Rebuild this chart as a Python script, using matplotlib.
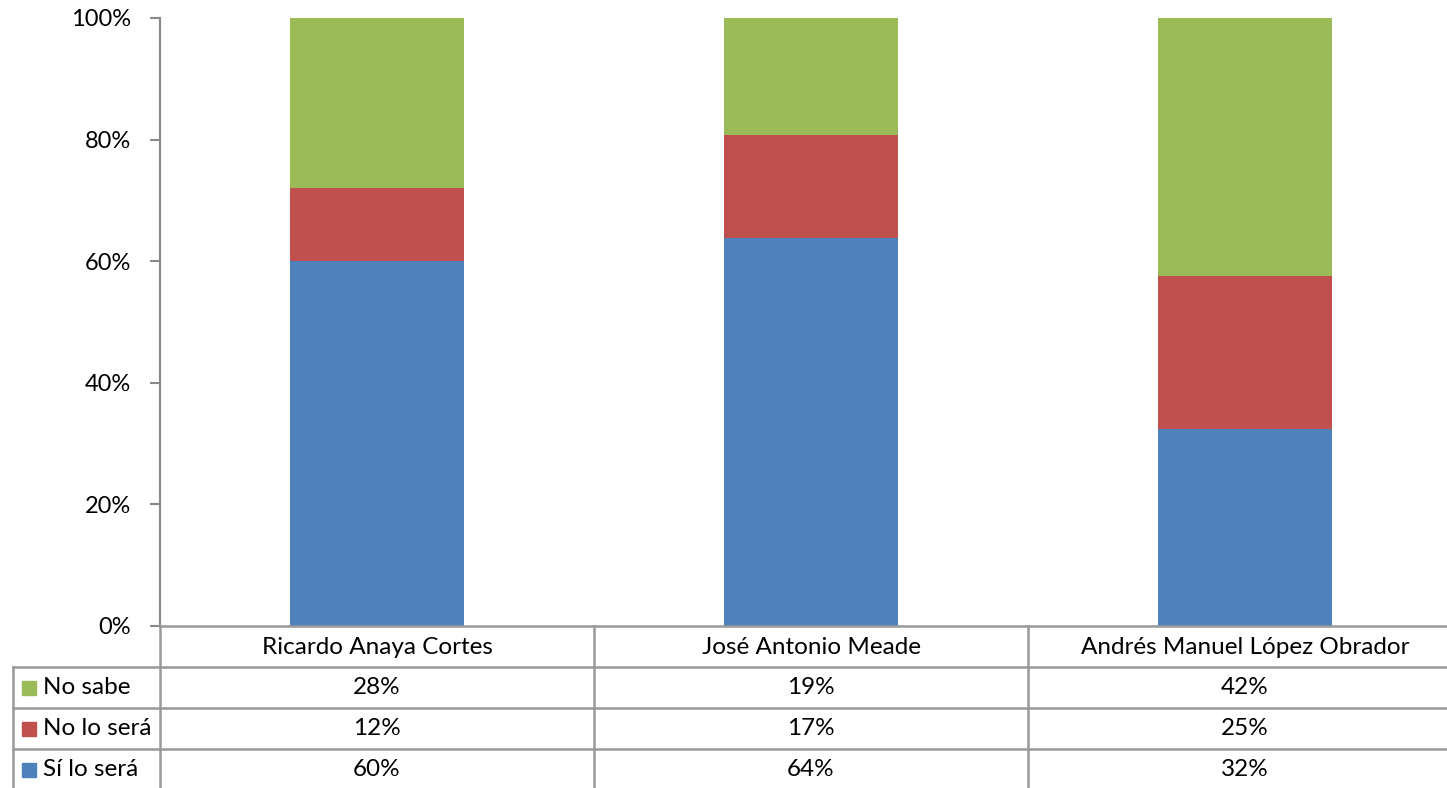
import matplotlib
matplotlib.use("Agg")
import matplotlib.pyplot as plt
from matplotlib.lines import Line2D
from matplotlib.patches import Rectangle

categories = ["Ricardo Anaya Cortes", "José Antonio Meade", "Andrés Manuel López Obrador"]
si_lo_sera = [60.0, 63.8, 32.4]
no_lo_sera = [12.0, 17.0, 25.2]
no_sabe = [28.0, 19.2, 42.4]
series_names = ["No sabe", "No lo será", "Sí lo será"]
yticks = [0, 20, 40, 60, 80, 100]

colors = {"Sí lo será": "#4F81BD", "No lo será": "#C0504D", "No sabe": "#9BBB59"}
W, H = 1447, 788
plt.rcParams['font.family'] = ['Lato', 'DejaVu Sans']
fig = plt.figure(figsize=(W / 100, H / 100), dpi=100)

def fx(px):
    return px / W

def fy(py):
    return 1 - py / H

ax_l, ax_r, ax_t, ax_b = 160, 1447, 18, 626
ax = fig.add_axes([fx(ax_l), fy(ax_b), fx(ax_r - ax_l), (ax_b - ax_t) / H])
cat_w = 434
xmax = -0.5 + (ax_r - ax_l) / cat_w
x = list(range(len(categories)))
ax.bar(x, si_lo_sera, width=0.4, color=colors["Sí lo será"], zorder=2)
ax.bar(x, no_lo_sera, width=0.4, bottom=si_lo_sera, color=colors["No lo será"], zorder=2)
bot2 = [a + b for a, b in zip(si_lo_sera, no_lo_sera)]
ax.bar(x, no_sabe, width=0.4, bottom=bot2, color=colors["No sabe"], zorder=2)
ax.set_xlim(-0.5, xmax)
ax.set_ylim(0, 100)
ax.set_yticks(yticks)
ax.set_yticklabels([f"{t}%" for t in yticks], fontsize=17)
ax.set_xticks([])
for s in ["top", "right", "bottom"]:
    ax.spines[s].set_visible(False)
ax.spines["left"].set_color("#888888")
ax.spines["left"].set_linewidth(1.5)
ax.tick_params(axis="y", length=7, width=1.5, color="#888888", pad=14, labelcolor="#000000")

# data table
gray = "#999999"
lw = 1.8
rows_y = [626, 667, 708, 749, 790]
col_x = [160, 594, 1028, 1462]
fig.add_artist(Line2D([fx(160), fx(1447)], [fy(626), fy(626)], color=gray, lw=lw))
for yy in rows_y[1:]:
    fig.add_artist(Line2D([fx(13), fx(1447)], [fy(yy), fy(yy)], color=gray, lw=lw))
for xx in col_x[:-1]:
    fig.add_artist(Line2D([fx(xx), fx(xx)], [fy(626), fy(788)], color=gray, lw=lw))
fig.add_artist(Line2D([fx(13), fx(13)], [fy(667), fy(788)], color=gray, lw=lw))

fs = 17.5
for i, c in enumerate(categories):
    cx = (col_x[i] + col_x[i + 1]) / 2
    fig.text(fx(cx), fy(647), c, ha="center", va="center", fontsize=fs)
row_data = {"No sabe": no_sabe, "No lo será": no_lo_sera, "Sí lo será": si_lo_sera}
for r, name in enumerate(series_names):
    yc = (rows_y[r + 1] + rows_y[r + 2]) / 2
    fig.add_artist(Rectangle((fx(22), fy(yc + 7)), fx(14), 14 / H, color=colors[name]))
    fig.text(fx(43), fy(yc), name, ha="left", va="center", fontsize=fs)
    for i in range(len(categories)):
        cx = (col_x[i] + col_x[i + 1]) / 2
        fig.text(fx(cx), fy(yc), f"{round(row_data[name][i]):.0f}%", ha="center", va="center", fontsize=fs)

fig.savefig("out.png", dpi=100)
